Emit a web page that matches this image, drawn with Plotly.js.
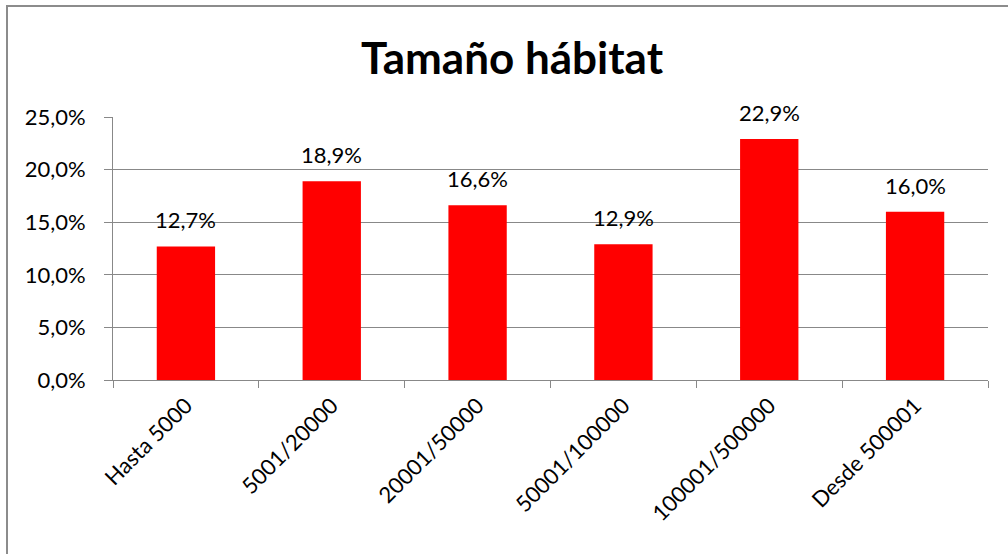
<!DOCTYPE html>
<html>
<head>
<meta charset="utf-8">
<script src="https://cdn.plot.ly/plotly-3.0.1.min.js"></script>
<style>
  html, body { margin: 0; padding: 0; background: #fff; overflow: hidden; }
  #chart { width: 1008px; height: 554px; }
  #frame { position: absolute; left: 6px; top: 5px; width: 1100px; height: 700px;
           border: 2px solid #8c8c8c; pointer-events: none; box-sizing: border-box; }
</style>
</head>
<body>
<div id="chart"></div>
<div id="frame"></div>
<script>
const categories = ["Hasta 5000", "5001/20000", "20001/50000", "50001/100000", "100001/500000", "Desde 500001"];
const values = [0.127, 0.189, 0.166, 0.129, 0.229, 0.160];
const labels = ["12,7%", "18,9%", "16,6%", "12,9%", "22,9%", "16,0%"];
const yTickVals = [0, 0.05, 0.10, 0.15, 0.20, 0.25];
const yTickText = ["0,0%", "5,0%", "10,0%", "15,0%", "20,0%", "25,0%"];
const chartTitle = "Tamaño hábitat";

const FONT = "Lato, 'Open Sans', sans-serif";

const annotations = categories.map((c, i) => ({
  x: c, y: values[i], xref: 'x', yref: 'y',
  text: labels[i], showarrow: false, yanchor: 'bottom', yshift: 11,
  font: { family: FONT, size: 22, color: '#000' }
}));

Plotly.newPlot('chart', [{
  type: 'bar',
  x: categories,
  y: values,
  marker: { color: '#ff0000' },
  width: 0.4,
  hoverinfo: 'skip'
}], {
  width: 1008, height: 554,
  margin: { l: 113, r: 20, t: 117, b: 174 },
  paper_bgcolor: '#fff', plot_bgcolor: '#fff',
  title: { text: '<b>' + chartTitle + '</b>', x: 0.508, xanchor: 'center', y: 0.895, yanchor: 'middle',
           font: { family: FONT, size: 44, color: '#000' } },
  showlegend: false,
  xaxis: {
    type: 'category',
    showline: true, linecolor: '#888', linewidth: 1,
    ticks: 'outside', tickson: 'boundaries', ticklen: 7, tickcolor: '#888', tickwidth: 1,
    tickangle: -45, tickfont: { family: FONT, size: 22, color: '#000' },
    ticklabelstandoff: 3,
    showgrid: false
  },
  yaxis: {
    range: [0, 0.25],
    tickvals: yTickVals, ticktext: yTickText,
    showline: true, linecolor: '#888', linewidth: 1,
    ticks: 'outside', ticklen: 8, tickcolor: '#888', tickwidth: 1,
    showgrid: true, gridcolor: '#888', gridwidth: 1,
    zeroline: false,
    tickfont: { family: FONT, size: 22, color: '#000' },
    ticklabelstandoff: 14
  },
  annotations: annotations
}, { displayModeBar: false, staticPlot: true });
</script>
</body>
</html>
